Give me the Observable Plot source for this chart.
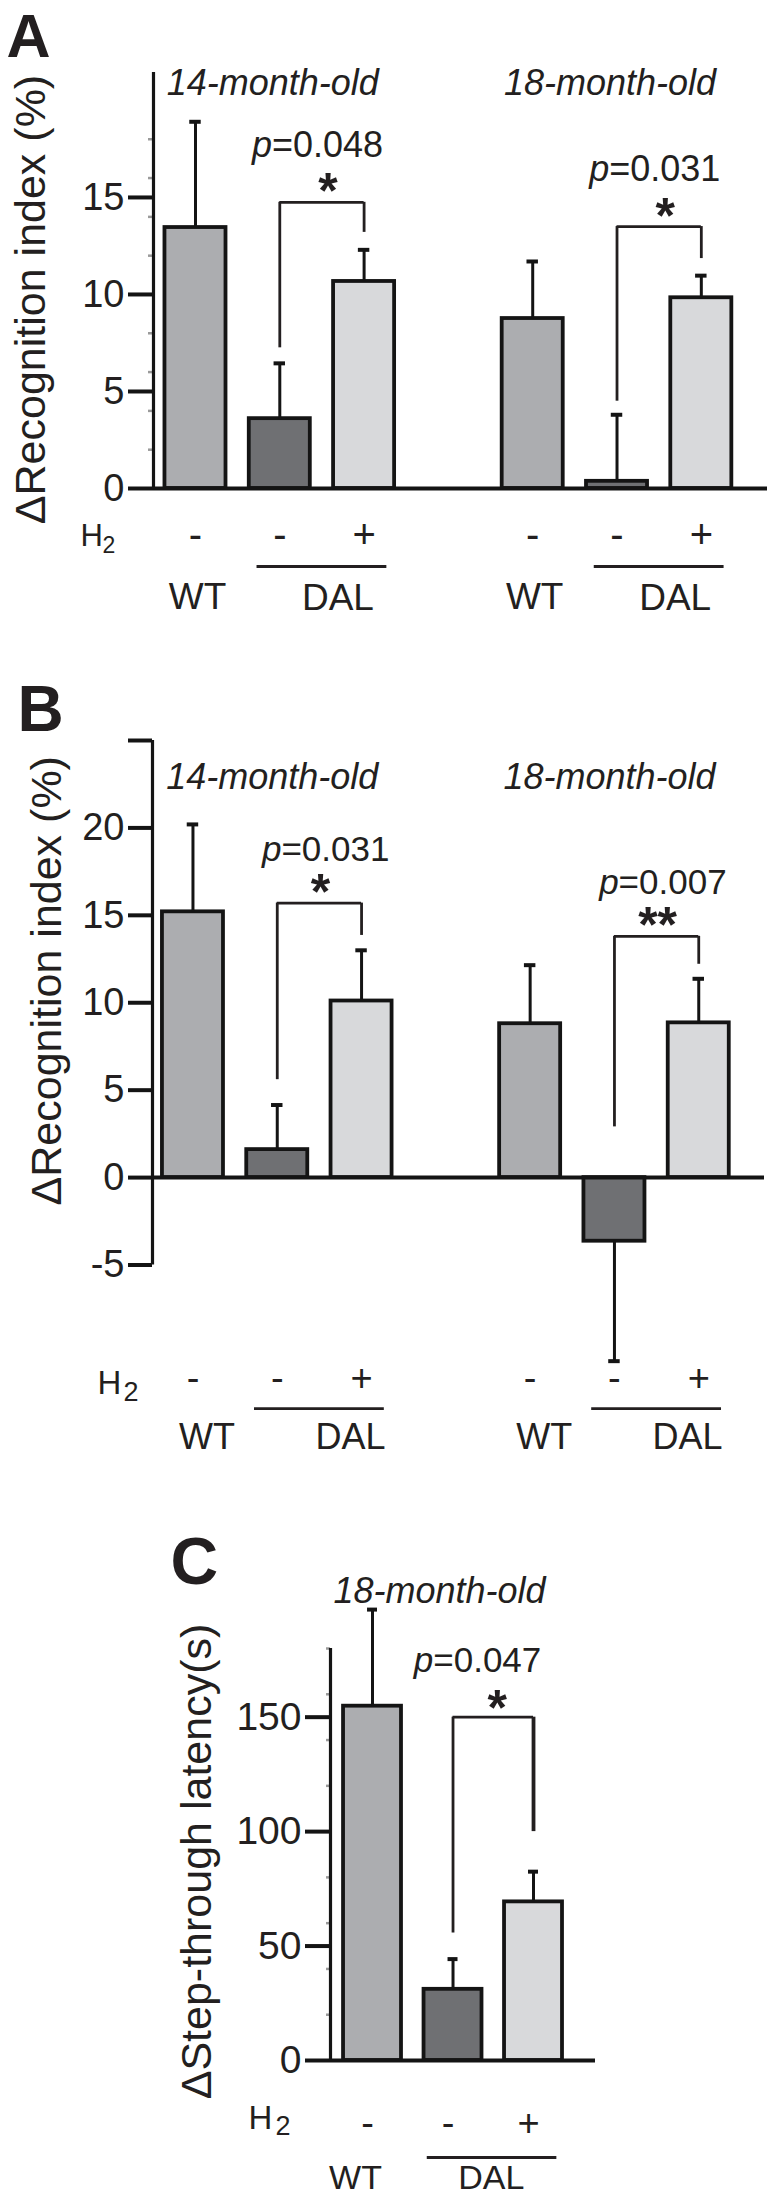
<!DOCTYPE html>
<html>
<head>
<meta charset="utf-8">
<script src="https://cdn.jsdelivr.net/npm/d3@7"></script>
<script src="https://cdn.jsdelivr.net/npm/@observablehq/plot@0.6"></script>
<style>
  html, body { margin: 0; padding: 0; background: #fff; overflow: hidden; }
  #chart { width: 775px; }
  #chart svg { display: block; }
</style>
</head>
<body>
<div id="chart"></div>
<script>
// ---------- data ----------
const panelLetters = ["A", "B", "C"];
const yLabels = ["ΔRecognition index (%)", "ΔRecognition index (%)", "ΔStep-through latency(s)"];
const ageGroupsAB = ["14-month-old", "18-month-old"];
const ageGroupsC = ["18-month-old"];
const genotypeLabels = ["WT", "DAL"];
const h2Label = ["H", "2"];
const h2Signs = ["-", "-", "+"];
const barColors = ["#acadb0", "#6f7073", "#d8d9db"];

// Panel A: novel object recognition
const meanA = [13.45, 3.6, 10.67, 8.76, 0.37, 9.83];
const errTopA = [18.9, 6.45, 12.3, 11.7, 3.8, 10.97];
const ticksA = [0, 5, 10, 15];
const tickLabelsA = ["0", "5", "10", "15"];
const minorTicksA = [2, 4, 6, 8, 12, 14, 16, 18];
const compareA = [[1, 2], [4, 5]];
const bracketLevelA = [14.75, 13.5];
const bracketLeftEndA = [7.25, 4.5];
const bracketRightEndA = [13.2, 11.85];
const pValuesA = ["0.048", "0.031"];
const starsA = ["*", "*"];

// Panel B: object location
const meanB = [15.2, 1.6, 10.1, 8.8, -3.64, 8.85];
const errTopB = [20.2, 4.15, 13.0, 12.15, -10.5, 11.37];
const ticksB = [-5, 0, 5, 10, 15, 20, 25];
const tickLabelsB = ["-5", "0", "5", "10", "15", "20", ""];
const compareB = [[1, 2], [4, 5]];
const bracketLevelB = [15.7, 13.8];
const bracketLeftEndB = [5.6, 2.9];
const bracketRightEndB = [13.85, 12.2];
const pValuesB = ["0.031", "0.007"];
const starsB = ["*", "**"];

// Panel C: passive avoidance
const meanC = [154.8, 31.1, 69.3];
const errTopC = [197, 44.3, 82.5];
const ticksC = [0, 50, 100, 150];
const tickLabelsC = ["0", "50", "100", "150"];
const minorTicksC = [20, 40, 60, 80, 120, 140, 160, 180];
const compareC = [[1, 2]];
const bracketLevelC = [150];
const bracketLeftEndC = [55.7];
const bracketRightEndC = [100];
const pValuesC = ["0.047"];
const starsC = ["*"];

// ---------- layout (pixels) ----------
const INK = "#231f20";
const LINE = "#141414";
const FONT = "'Liberation Sans', Arial, Helvetica, sans-serif";

const layoutA = {
  height: 620, mt: 72, mb: 132, ml: 153, mr: 8, xdom: [-0.498, 6.785], ydom: [0, 21.44],
  half: 0.362, cap: 0.068, tickSize: 25, tickPad: 4, tickFs: 38, minorSize: 5,
  letterDx: -147, letterDy: -16, letterFs: 61,
  ylabDx: -109, ylabDy: 19, ylabFs: 43,
  monthDx: -7, monthDy: 22, monthFs: 36,
  starDx: 6, starDy: 6, starFs: 50,
  pDx: -50, pDy: -45.5, pFs: 36,
  signDy: 59, signDx: 0, signFs: 40,
  hDx: -73, hDy: 57, hFs: 31, sDx: -51, sDy: 64, sFs: 23,
  lineDy: 78, extL: 0.27, extR: 0.27,
  wtDx: 2, wtDy: 120, dalDx: 16, dalDy: 121, gFs: 37, rightLegW: 2.8
};
const layoutB = {
  height: 850, mt: 120, mb: 205.5, ml: 152, mr: 11, xdom: [-0.48, 6.78], ydom: [-5, 25],
  half: 0.362, cap: 0.068, tickSize: 24, tickPad: 4, tickFs: 38, minorSize: 0,
  letterDx: -135, letterDy: -10, letterFs: 64,
  ylabDx: -92, ylabDy: -22, ylabFs: 43,
  monthDx: -5, monthDy: 48.5, monthFs: 36,
  starDx: 1, starDy: 6, starFs: 50,
  pDx: -38, pDy: -42, pFs: 35,
  signDy: 213, signDx: 0, signFs: 38,
  hDx: -55, hDy: 216, hFs: 33, sDx: -29, sDy: 223, sFs: 27,
  lineDy: 231, extL: 0.27, extR: 0.27,
  wtDx: 14, wtDy: 271, dalDx: 31, dalDy: 271, gFs: 36, rightLegW: 2.8
};
const layoutC = {
  height: 726, mt: 178, mb: 136, ml: 330, mr: 180, xdom: [-0.522, 2.77], ydom: [0, 180],
  half: 0.36, cap: 0.062, tickSize: 25, tickPad: 4, tickFs: 39, minorSize: 4,
  letterDx: -160, letterDy: -65, letterFs: 66,
  ylabDx: -120, ylabDy: 7, ylabFs: 43,
  monthDx: -13.5, monthDy: -46, monthFs: 36,
  starDx: 4, starDy: 8, starFs: 50,
  pDx: -60, pDy: -44.7, pFs: 35,
  signDy: 75, signDx: -5, signFs: 38,
  hDx: -82, hDy: 68, hFs: 33, sDx: -55, sDy: 74, sFs: 27,
  lineDy: 97, extL: 0.32, extR: 0.29,
  wtDx: -17, wtDy: 128, dalDx: -2, dalDy: 128, gFs: 34, rightLegW: 3.8
};

function buildPanel(d, L) {
  const slotOf = i => i + Math.floor(i / 3);
  const bars = d.means.map((m, i) => ({
    slot: slotOf(i), mean: m, err: d.errTop[i], sign: h2Signs[i % 3], color: barColors[i % 3]
  }));
  const groups = d.groups.map((g, gi) => ({
    label: g, wt: slotOf(gi * 3), mid: slotOf(gi * 3 + 1),
    d1: slotOf(gi * 3 + 1), d2: slotOf(gi * 3 + 2),
    dal: (slotOf(gi * 3 + 1) + slotOf(gi * 3 + 2)) / 2
  }));
  const brackets = d.compare.map((c, k) => ({
    x1: slotOf(c[0]), x2: slotOf(c[1]), xm: (slotOf(c[0]) + slotOf(c[1])) / 2,
    level: d.level[k], leftEnd: d.leftEnd[k], rightEnd: d.rightEnd[k],
    p: d.p[k], stars: d.stars[k]
  }));
  const tickLabel = new Map(d.ticks.map((t, i) => [t, d.tickLabels[i]]));
  const T = (data, opts) => Plot.text(data, {fill: INK, lineAnchor: "bottom", ...opts});

  const marks = [];
  if (d.minor) {
    marks.push(Plot.axisY(d.minor, {
      tickSize: L.minorSize, tickFormat: () => "", stroke: "#9a9a9a", strokeWidth: 2.5, label: null
    }));
  }
  marks.push(
    Plot.axisY(d.ticks, {
      tickSize: L.tickSize, tickPadding: L.tickPad, tickFormat: t => tickLabel.get(t),
      stroke: LINE, strokeWidth: 4, fontSize: L.tickFs, label: null
    }),
    Plot.ruleX([L.xdom[0]], {stroke: LINE, strokeWidth: 3.2}),
    Plot.rect(bars, {
      x1: b => b.slot - L.half, x2: b => b.slot + L.half, y1: 0, y2: "mean",
      fill: "color", stroke: LINE, strokeWidth: 3.8
    }),
    Plot.ruleX(bars, {x: "slot", y1: "mean", y2: "err", stroke: LINE, strokeWidth: 3}),
    Plot.ruleY(bars, {y: "err", x1: b => b.slot - L.cap, x2: b => b.slot + L.cap, stroke: LINE, strokeWidth: 4}),
    Plot.ruleY([0], {stroke: LINE, strokeWidth: 4}),
    // significance brackets
    Plot.ruleY(brackets, {y: "level", x1: "x1", x2: "x2", stroke: INK, strokeWidth: 2.8}),
    Plot.ruleX(brackets, {x: "x1", y1: "level", y2: "leftEnd", stroke: INK, strokeWidth: 2.8}),
    Plot.ruleX(brackets, {x: "x2", y1: "level", y2: "rightEnd", stroke: INK, strokeWidth: L.rightLegW}),
    T(brackets, {x: "xm", y: "level", text: "stars", dx: L.starDx, dy: L.starDy, fontSize: L.starFs, fontWeight: "bold"}),
    T(brackets, {x: "xm", y: "level", text: () => "p", textAnchor: "end", fontStyle: "italic", dx: L.pDx, dy: L.pDy, fontSize: L.pFs}),
    T(brackets, {x: "xm", y: "level", text: b => "=" + b.p, textAnchor: "start", dx: L.pDx, dy: L.pDy, fontSize: L.pFs}),
    // age labels
    T(groups, {x: "mid", frameAnchor: "top", text: "label", fontStyle: "italic", dx: L.monthDx, dy: L.monthDy, fontSize: L.monthFs}),
    // H2 row
    T(bars, {x: "slot", y: 0, text: "sign", dx: L.signDx, dy: L.signDy, fontSize: L.signFs}),
    T([h2Label[0]], {frameAnchor: "left", y: 0, textAnchor: "start", dx: L.hDx, dy: L.hDy, fontSize: L.hFs}),
    T([h2Label[1]], {frameAnchor: "left", y: 0, textAnchor: "start", dx: L.sDx, dy: L.sDy, fontSize: L.sFs}),
    // genotype labels
    Plot.ruleY(groups, {y: 0, x1: g => g.d1 - L.extL, x2: g => g.d2 + L.extR, dy: L.lineDy, stroke: INK, strokeWidth: 2.8}),
    T(groups, {x: "wt", y: 0, text: () => genotypeLabels[0], dx: L.wtDx, dy: L.wtDy, fontSize: L.gFs}),
    T(groups, {x: "dal", y: 0, text: () => genotypeLabels[1], dx: L.dalDx, dy: L.dalDy, fontSize: L.gFs}),
    // panel letter and y label
    T([d.letter], {frameAnchor: "top-left", textAnchor: "start", fontWeight: "bold", dx: L.letterDx, dy: L.letterDy, fontSize: L.letterFs}),
    T([d.ylabel], {frameAnchor: "left", rotate: -90, textAnchor: "middle", dx: L.ylabDx, dy: L.ylabDy, fontSize: L.ylabFs})
  );

  return Plot.plot({
    width: 775, height: L.height,
    marginTop: L.mt, marginBottom: L.mb, marginLeft: L.ml, marginRight: L.mr,
    x: {type: "linear", domain: L.xdom, axis: null},
    y: {type: "linear", domain: L.ydom, label: null},
    color: {type: "identity"},
    style: {fontFamily: FONT, fontSize: L.tickFs + "px", color: INK, background: "#fff", overflow: "visible"},
    marks
  });
}

const chart = document.getElementById("chart");
chart.append(
  buildPanel({
    letter: panelLetters[0], ylabel: yLabels[0], groups: ageGroupsAB,
    means: meanA, errTop: errTopA, ticks: ticksA, tickLabels: tickLabelsA, minor: minorTicksA,
    compare: compareA, level: bracketLevelA, leftEnd: bracketLeftEndA, rightEnd: bracketRightEndA,
    p: pValuesA, stars: starsA
  }, layoutA),
  buildPanel({
    letter: panelLetters[1], ylabel: yLabels[1], groups: ageGroupsAB,
    means: meanB, errTop: errTopB, ticks: ticksB, tickLabels: tickLabelsB, minor: null,
    compare: compareB, level: bracketLevelB, leftEnd: bracketLeftEndB, rightEnd: bracketRightEndB,
    p: pValuesB, stars: starsB
  }, layoutB),
  buildPanel({
    letter: panelLetters[2], ylabel: yLabels[2], groups: ageGroupsC,
    means: meanC, errTop: errTopC, ticks: ticksC, tickLabels: tickLabelsC, minor: minorTicksC,
    compare: compareC, level: bracketLevelC, leftEnd: bracketLeftEndC, rightEnd: bracketRightEndC,
    p: pValuesC, stars: starsC
  }, layoutC)
);
</script>
</body>
</html>
